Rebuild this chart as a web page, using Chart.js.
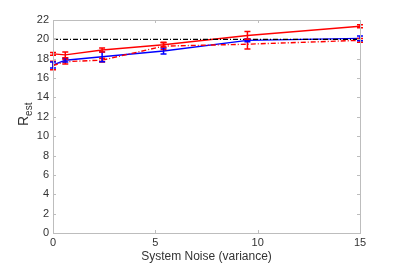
<!DOCTYPE html>
<html>
<head>
<meta charset="utf-8">
<script src="https://cdn.jsdelivr.net/npm/chart.js@4"></script>
<style>
  html, body { margin: 0; padding: 0; background: #fff; }
  #wrap { width: 399px; height: 264px; }
</style>
</head>
<body>
<div id="wrap"><canvas id="chart" width="399" height="264"></canvas></div>
<script>
// x positions (system noise variance)
const noiseLevels = [0, 0.6, 2.4, 5.4, 9.5, 15];

// red solid series
const redSolid = [18.5, 18.4, 18.9, 19.45, 20.4, 21.35];
const redSolidErr = [0.15, 0.3, 0.2, 0.25, 0.4, 0.15];

// red dash-dot series
const redDash = [17.3, 17.7, 17.85, 19.3, 19.5, 19.9];
const redDashErr = [0.45, 0.25, 0.2, 0.35, 0.5, 0.2];

// blue series
const blueSolid = [17.35, 17.85, 18.2, 18.8, 19.9, 20.1];
const blueErr = [0.3, 0.2, 0.5, 0.3, 0.15, 0.25];

// true value reference line
const trueLine = [20, 20];
const trueX = [0, 15];

const xTicks = [0, 5, 10, 15];
const axisGrey = '#bdbdbd';
const textColor = '#333';
const fontFam = "'Liberation Sans', Arial, sans-serif";

const toPts = (xs, ys) => xs.map((x, i) => ({ x: x, y: ys[i] }));

// draws vertical error bars with caps through the chart scales
const errorBars = {
  id: 'errorBars',
  afterDatasetsDraw(chart) {
    const { ctx, scales: { x, y } } = chart;
    chart.data.datasets.forEach(ds => {
      if (!ds.err) return;
      ctx.save();
      ctx.strokeStyle = ds.borderColor;
      ctx.lineWidth = 1.5;
      ctx.setLineDash([]);
      ds.data.forEach((p, i) => {
        const px = x.getPixelForValue(p.x);
        const top = y.getPixelForValue(p.y + ds.err[i]);
        const bot = y.getPixelForValue(p.y - ds.err[i]);
        ctx.beginPath();
        ctx.moveTo(px, top); ctx.lineTo(px, bot);
        ctx.moveTo(px - 3, top); ctx.lineTo(px + 3, top);
        ctx.moveTo(px - 3, bot); ctx.lineTo(px + 3, bot);
        ctx.stroke();
      });
      ctx.restore();
    });
  }
};

// box outline, inward ticks and the subscripted y title
const frame = {
  id: 'frame',
  afterDraw(chart) {
    const { ctx, chartArea: a, scales: { x, y } } = chart;
    ctx.save();
    ctx.strokeStyle = axisGrey;
    ctx.lineWidth = 1;
    ctx.strokeRect(Math.round(a.left) + 0.5, Math.round(a.top) + 0.5,
      Math.round(a.right - a.left), Math.round(a.bottom - a.top));
    ctx.beginPath();
    x.ticks.forEach(t => {
      const px = Math.round(x.getPixelForValue(t.value)) + 0.5;
      ctx.moveTo(px, a.bottom); ctx.lineTo(px, a.bottom - 3);
      ctx.moveTo(px, a.top); ctx.lineTo(px, a.top + 3);
    });
    y.ticks.forEach(t => {
      const py = Math.round(y.getPixelForValue(t.value)) + 0.5;
      ctx.moveTo(a.left, py); ctx.lineTo(a.left + 3, py);
      ctx.moveTo(a.right, py); ctx.lineTo(a.right - 3, py);
    });
    ctx.stroke();

    // R_est
    ctx.fillStyle = textColor;
    ctx.translate(28, 126);
    ctx.rotate(-Math.PI / 2);
    ctx.textBaseline = 'alphabetic';
    ctx.textAlign = 'left';
    ctx.font = '14px ' + fontFam;
    ctx.fillText('R', 0, 0);
    const w = ctx.measureText('R').width;
    ctx.font = '10px ' + fontFam;
    ctx.fillText('est', w, 4);
    ctx.restore();
  }
};

new Chart(document.getElementById('chart'), {
  type: 'line',
  data: {
    datasets: [
      {
        label: 'True',
        data: toPts(trueX, trueLine),
        borderColor: '#000',
        borderWidth: 1.2,
        borderDash: [5, 2, 1, 2],
        pointRadius: 0,
      },
      {
        label: 'Red dash-dot',
        data: toPts(noiseLevels, redDash),
        err: redDashErr,
        borderColor: '#ff0000',
        borderWidth: 1.4,
        borderDash: [5, 2, 1, 2],
        pointRadius: 0,
      },
      {
        label: 'Blue',
        data: toPts(noiseLevels, blueSolid),
        err: blueErr,
        borderColor: '#0000ff',
        borderWidth: 1.4,
        pointRadius: 0,
      },
      {
        label: 'Red solid',
        data: toPts(noiseLevels, redSolid),
        err: redSolidErr,
        borderColor: '#ff0000',
        borderWidth: 1.4,
        pointRadius: 0,
      },
    ]
  },
  options: {
    responsive: false,
    animation: false,
    layout: { padding: { top: 20, right: 39, left: 0, bottom: 0 } },
    plugins: {
      legend: { display: false },
      tooltip: { enabled: false },
    },
    scales: {
      x: {
        type: 'linear',
        min: 0,
        max: 15,
        afterBuildTicks: s => { s.ticks = xTicks.map(v => ({ value: v })); },
        afterFit: s => { s.height = 31; },
        grid: { display: false, drawTicks: false },
        border: { display: true, color: axisGrey },
        ticks: { color: textColor, padding: 3, font: { size: 11, family: fontFam } },
        title: {
          display: true,
          text: 'System Noise (variance)',
          color: textColor,
          padding: { top: 0, bottom: 0 },
          font: { size: 12, family: fontFam },
        },
      },
      y: {
        min: 0,
        max: 22,
        ticks: { stepSize: 2, color: textColor, padding: 4, font: { size: 11, family: fontFam } },
        afterFit: s => { s.width = 53; },
        grid: { display: false, drawTicks: false },
        border: { display: true, color: axisGrey },
      },
    },
  },
  plugins: [errorBars, frame],
});
</script>
</body>
</html>
